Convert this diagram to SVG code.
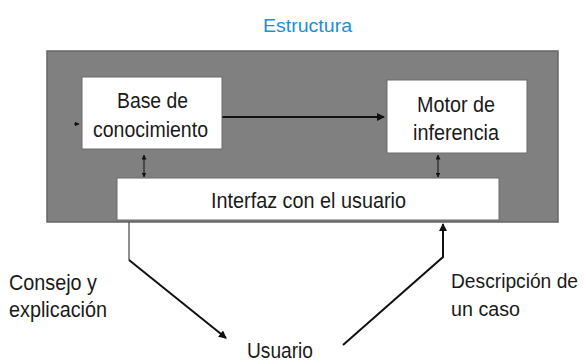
<svg xmlns="http://www.w3.org/2000/svg" width="587" height="363" viewBox="0 0 587 363">
<style>
text{font-family:"Liberation Sans",Arial,sans-serif;font-size:22px;fill:#1a1a1a}
.box{fill:#fff;stroke:#6a6a6a;stroke-width:1}
.c{stroke:#111;stroke-width:2;fill:none}
.t{stroke:#111;stroke-width:1;fill:none}
.r{font-size:20px}
</style>
<defs>
<marker id="ah" markerWidth="8" markerHeight="8" refX="7" refY="4" orient="auto" markerUnits="userSpaceOnUse"><path d="M0,0 L8,4 L0,8 z" fill="#111"/></marker>
<marker id="as" markerWidth="5" markerHeight="5" refX="4.5" refY="2.5" orient="auto-start-reverse" markerUnits="userSpaceOnUse"><path d="M0,0 L5,2.5 L0,5 z" fill="#111"/></marker>
</defs>
<rect x="0" y="0" width="587" height="363" fill="#fff"/>
<text x="307.5" y="32" text-anchor="middle" textLength="89" lengthAdjust="spacingAndGlyphs" style="fill:#1b8fd9;font-size:18px">Estructura</text>
<g id="sistema"><rect x="47" y="51" width="511" height="171" fill="#808080" stroke="#666" stroke-width="1.5"/></g>
<g id="connectors">
<path class="c" d="M222,117 H384" marker-end="url(#ah)"/>
<path class="t" d="M74,124 H79" marker-end="url(#as)"/>
<path class="t" d="M144,155 V177" marker-start="url(#as)" marker-end="url(#as)"/>
<path class="t" d="M438,155 V177" marker-start="url(#as)" marker-end="url(#as)"/>
<path d="M129,222 V260" stroke="#444" stroke-width="1.2" fill="none"/>
<path class="c" d="M129,260 L226,338" marker-end="url(#ah)"/>
<path class="c" d="M343,345 L443,257 V224" marker-end="url(#ah)"/>
</g>
<g id="base"><rect class="box" x="82" y="77" width="140" height="72"/>
<text x="152.5" y="108" text-anchor="middle" textLength="71" lengthAdjust="spacingAndGlyphs">Base de</text>
<text x="150.5" y="137" text-anchor="middle" textLength="115" lengthAdjust="spacingAndGlyphs">conocimiento</text></g>
<g id="motor"><rect class="box" x="387" y="80" width="140" height="73"/>
<text x="456" y="112" text-anchor="middle" textLength="78" lengthAdjust="spacingAndGlyphs">Motor de</text>
<text x="456" y="140" text-anchor="middle" textLength="86" lengthAdjust="spacingAndGlyphs">inferencia</text></g>
<g id="interfaz"><rect class="box" x="117" y="178" width="382" height="42"/>
<text x="308.5" y="208" text-anchor="middle" textLength="195" lengthAdjust="spacingAndGlyphs">Interfaz con el usuario</text></g>
<g id="consejo"><text x="9" y="290" textLength="88" lengthAdjust="spacingAndGlyphs">Consejo y</text><text x="9" y="317" textLength="98" lengthAdjust="spacingAndGlyphs">explicación</text></g>
<g id="descripcion"><text class="r" x="451" y="288" textLength="127" lengthAdjust="spacingAndGlyphs">Descripción de</text><text class="r" x="451" y="316" textLength="69" lengthAdjust="spacingAndGlyphs">un caso</text></g>
<g id="usuario"><text x="280" y="358" text-anchor="middle" textLength="66" lengthAdjust="spacingAndGlyphs">Usuario</text></g>
</svg>
